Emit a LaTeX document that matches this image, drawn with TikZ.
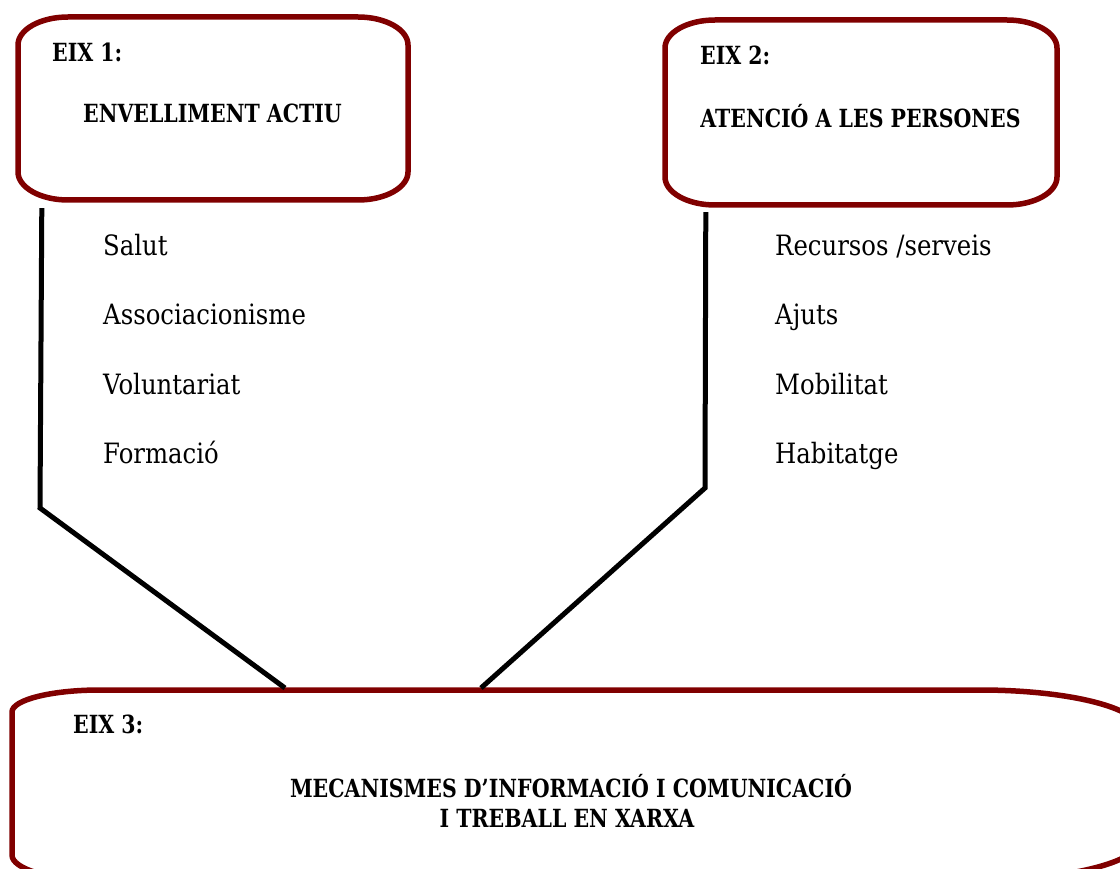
\documentclass[tikz,border=0pt]{standalone}
\usepackage{fontspec}
\setmainfont{DejaVu Serif}
\definecolor{boxred}{HTML}{800000}
\newcommand\ebox[6]{%
  \draw[boxline] (#1+#5,#2) -- (#3-#5,#2)
    arc[start angle=-90,end angle=0,x radius=#5,y radius=#6]
    -- (#3,#4-#6)
    arc[start angle=0,end angle=90,x radius=#5,y radius=#6]
    -- (#1+#5,#4)
    arc[start angle=90,end angle=180,x radius=#5,y radius=#6]
    -- (#1,#2+#6)
    arc[start angle=180,end angle=270,x radius=#5,y radius=#6] -- cycle;}
\newcommand\hdtxt[1]{\scalebox{0.82}[1]{#1}}
\newcommand\ittxt[1]{\scalebox{0.87}[1]{#1}}
\tikzset{
  boxline/.style={draw=boxred,line width=5.5pt},
  conn/.style={draw=black,line width=5pt},
  head/.style={font=\fontsize{25}{29}\selectfont\bfseries,inner sep=0pt},
  item/.style={font=\fontsize{28}{33}\selectfont,inner sep=0pt,anchor=base west},
}
\begin{document}
\begin{tikzpicture}[x=1pt,y=-1pt]
\clip (0,0) rectangle (1120,869);
\fill[white] (0,0) rectangle (1120,869);
% boxes
\node[inner sep=0pt,minimum width=390pt,minimum height=183pt] (b1) at (213,108.5) {};
\node[inner sep=0pt,minimum width=392pt,minimum height=185pt] (b2) at (861,112.5) {};
\node[inner sep=0pt,minimum width=1130pt,minimum height=190pt] (b3) at (577,785) {};
\ebox{18}{17}{408}{200}{50}{28}
\ebox{665}{20}{1057}{205}{50}{28}
\draw[boxline] (100,690) -- (980,690)
  arc[start angle=-90,end angle=0,x radius=160,y radius=40] -- (1140,840)
  arc[start angle=0,end angle=90,x radius=160,y radius=40] -- (95,880)
  arc[start angle=90,end angle=180,x radius=83,y radius=25] -- (12,712)
  arc[start angle=180,end angle=270,x radius=88,y radius=22] -- cycle;
% headings
\node[head,anchor=base west] (h1a) at (52,62) {\hdtxt{EIX 1:}};
\node[head,anchor=base] (h1b) at (212.5,123) {\hdtxt{ENVELLIMENT ACTIU}};
\node[head,anchor=base west] (h2a) at (700,65) {\hdtxt{EIX 2:}};
\node[head,anchor=base] (h2b) at (860.5,128) {\hdtxt{ATENCIÓ A LES PERSONES}};
\node[head,anchor=base west] (h3a) at (73,733) {\hdtxt{EIX 3:}};
\node[head,anchor=base] (h3b) at (571,797) {\hdtxt{MECANISMES D’INFORMACIÓ I COMUNICACIÓ}};
\node[head,anchor=base] (h3c) at (567,827) {\hdtxt{I TREBALL EN XARXA}};
% items
\node[item] (i1) at (103,256) {\ittxt{Salut}};
\node[item] (i2) at (103,325) {\ittxt{Associacionisme}};
\node[item] (i3) at (103,394) {\ittxt{Voluntariat}};
\node[item] (i4) at (103,463) {\ittxt{Formació}};
\node[item] (j1) at (775,256) {\ittxt{Recursos /serveis}};
\node[item] (j2) at (775,325) {\ittxt{Ajuts}};
\node[item] (j3) at (775,394) {\ittxt{Mobilitat}};
\node[item] (j4) at (775,463) {\ittxt{Habitatge}};
% connectors
\coordinate (c1s) at ([shift={(24,8)}]b1.south west);
\coordinate (c1k) at (40,508);
\coordinate (c1e) at (285,688);
\coordinate (c2s) at ([shift={(41,7)}]b2.south west);
\coordinate (c2k) at (705,488);
\coordinate (c2e) at (481,688);
\draw[conn] (c1s) -- (c1k) -- (c1e);
\draw[conn] (c2s) -- (c2k) -- (c2e);
\end{tikzpicture}
\end{document}
